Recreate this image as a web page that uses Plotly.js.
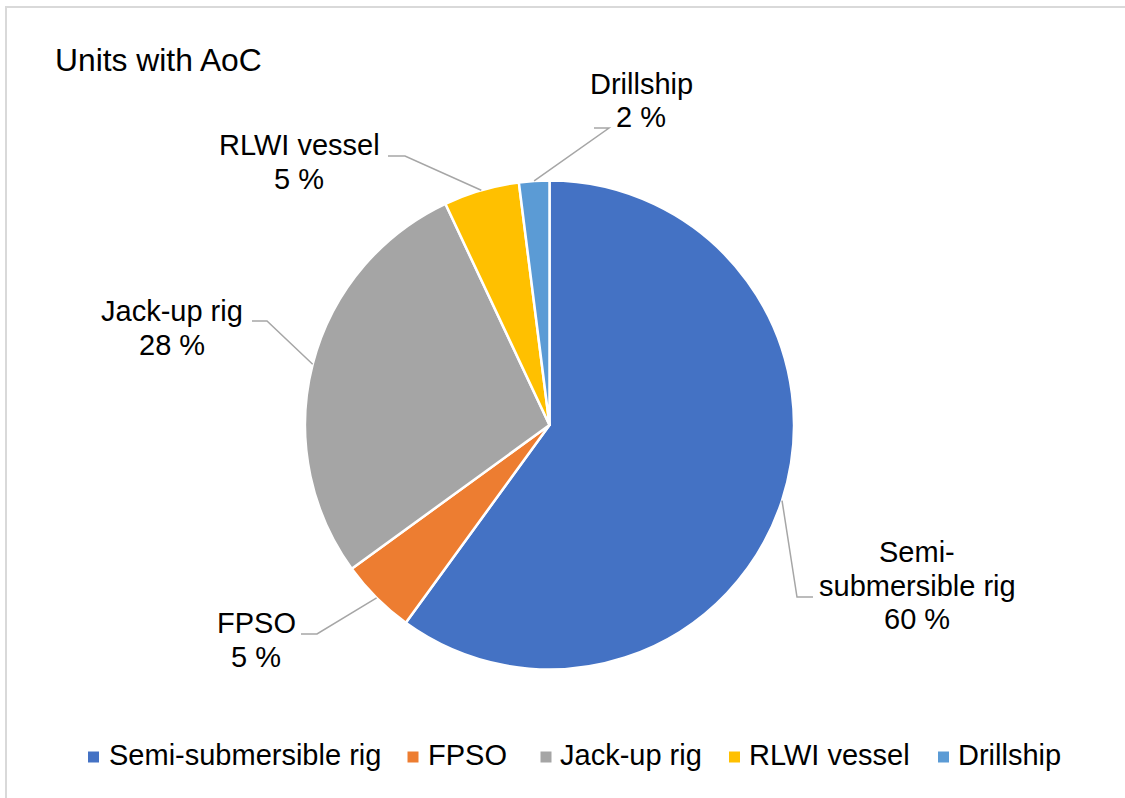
<!DOCTYPE html>
<html>
<head>
<meta charset="utf-8">
<script src="https://cdn.plot.ly/plotly-3.0.1.min.js"></script>
<style>
  html, body { margin: 0; padding: 0; background: #ffffff; }
  #chart { width: 1125px; height: 798px; }
</style>
</head>
<body>
<div id="chart"></div>
<script>
// Units with an Acknowledgement of Compliance, by unit type (share of units)
const categories = ['Semi-submersible rig', 'FPSO', 'Jack-up rig', 'RLWI vessel', 'Drillship'];
const shares = [60, 5, 28, 5, 2];
const labelNames = [['Semi-', 'submersible rig'], ['FPSO'], ['Jack-up rig'], ['RLWI vessel'], ['Drillship']];
const sliceColors = ['#4472C4', '#ED7D31', '#A5A5A5', '#FFC000', '#5B9BD5'];

// Page geometry (pixels)
const W = 1125, H = 798;
const M = { l: 305, r: 331, t: 180, b: 128 };
const pw = W - M.l - M.r, ph = H - M.t - M.b;
const cx = M.l + pw / 2, cy = M.t + ph / 2, R = Math.min(pw, ph) / 2;
const px2x = p => (p - M.l) / pw;
const py2y = p => 1 - (p - M.t) / ph;

// Where each data label sits (top line centre) and the elbow of its leader line
const labelAnchors = [[917, 552], [256, 623], [172, 311], [299, 145], [641, 84]];
const leaderElbows = [
  [[797, 597], [813, 597]],
  [[317, 634], [301, 634]],
  [[267, 321], [252, 321]],
  [[405, 156], [388, 156]],
  [[609, 128], [594, 128]]
];
const lineStep = 33.5;

// Legend row: swatch centres and text start positions
const legendSwatchX = [93.5, 413, 546, 734.5, 943.5];
const legendTextX = [109, 428, 560, 749, 958];
const legendY = 757, legendTextY = 755, swatch = 11;

const fontFamily = '"Liberation Sans", Arial, sans-serif';
const textFont = { family: fontFamily, size: 29, color: '#000000' };

const total = shares.reduce((a, b) => a + b, 0);
const annotations = [];
const shapes = [];
let cum = 0;
shares.forEach((v, i) => {
  const mid = (cum + v / 2) / total * 2 * Math.PI;
  cum += v;
  // point on the slice edge at its mid angle
  const sx = cx + R * Math.sin(mid), sy = cy - R * Math.cos(mid);
  const pts = [[sx, sy]].concat(leaderElbows[i]);
  const path = pts.map((p, k) => (k ? 'L' : 'M') + px2x(p[0]) + ',' + py2y(p[1])).join(' ');
  shapes.push({ type: 'path', xref: 'paper', yref: 'paper', path: path,
                line: { color: '#A6A6A6', width: 1.5 } });
  const lines = labelNames[i].concat([v + ' %']);
  lines.forEach((t, k) => {
    annotations.push({
      xref: 'paper', yref: 'paper',
      x: px2x(labelAnchors[i][0]), y: py2y(labelAnchors[i][1] + k * lineStep),
      xanchor: 'center', yanchor: 'middle', showarrow: false,
      text: t, font: textFont
    });
  });

  // legend entry
  shapes.push({ type: 'rect', xref: 'paper', yref: 'paper',
    x0: px2x(legendSwatchX[i] - swatch / 2), x1: px2x(legendSwatchX[i] + swatch / 2),
    y0: py2y(legendY + swatch / 2), y1: py2y(legendY - swatch / 2),
    line: { width: 0 }, fillcolor: sliceColors[i] });
  annotations.push({
    xref: 'paper', yref: 'paper',
    x: px2x(legendTextX[i]), y: py2y(legendTextY),
    xanchor: 'left', yanchor: 'middle', showarrow: false,
    text: categories[i], font: textFont, xshift: -2
  });
});

// chart area frame
shapes.push({ type: 'rect', xref: 'paper', yref: 'paper',
  x0: px2x(6), y0: py2y(7), x1: px2x(1140), y1: py2y(812),
  line: { color: '#D9D9D9', width: 2 }, fillcolor: 'rgba(0,0,0,0)' });

const data = [{
  type: 'pie',
  labels: categories,
  values: shares,
  sort: false,
  direction: 'clockwise',
  rotation: 0,
  textinfo: 'none',
  hoverinfo: 'label+percent',
  showlegend: false,
  marker: { colors: sliceColors, line: { color: '#FFFFFF', width: 2.5 } }
}];

const layout = {
  width: W, height: H,
  margin: M,
  paper_bgcolor: '#FFFFFF',
  plot_bgcolor: '#FFFFFF',
  font: textFont,
  showlegend: false,
  title: {
    text: 'Units with AoC',
    xref: 'container', yref: 'container',
    x: 55 / W, xanchor: 'left',
    y: 1 - 60 / H, yanchor: 'middle',
    font: { family: fontFamily, size: 31.8, color: '#000000' }
  },
  annotations: annotations,
  shapes: shapes
};

Plotly.newPlot('chart', data, layout, { displayModeBar: false, staticPlot: true });
</script>
</body>
</html>
